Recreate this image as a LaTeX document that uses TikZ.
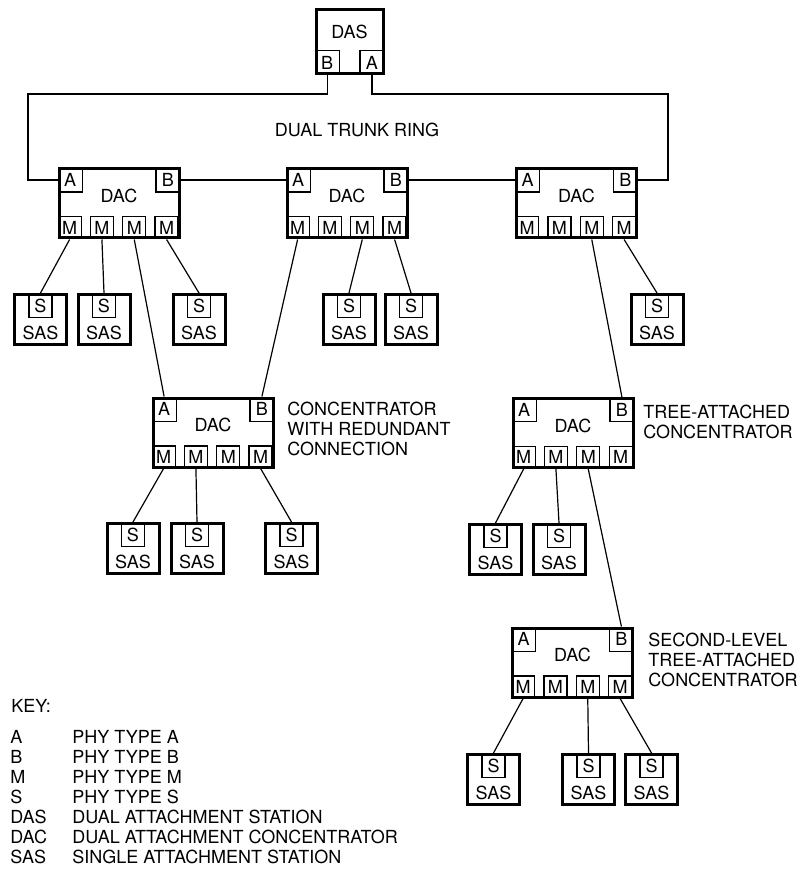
\documentclass[tikz,border=0pt]{standalone}
\usepackage{fontspec}
\setmainfont{TeX Gyre Heros}
\usetikzlibrary{calc,positioning}

\tikzset{
  thickbox/.style={draw,line width=1.5pt,inner sep=0pt},
  dacbox/.style={thickbox,minimum width=60pt,minimum height=34.5pt},
  sasbox/.style={thickbox,minimum width=26pt,minimum height=25pt},
  dasbox/.style={thickbox,minimum width=33.5pt,minimum height=32pt},
  port/.style={draw,line width=0.6pt,inner sep=0pt,
               minimum width=12pt,minimum height=12pt},
  mport/.style={port,minimum width=11.5pt,minimum height=11pt},
  link/.style={line width=0.6pt},
  lbl/.style={inner sep=0pt}
}

% concentrator: name, centre x, centre y
\newcommand{\dacunit}[3]{%
  \node[dacbox] (#1) at (#2,#3) {};
  \node[lbl] (#1-t) at ([yshift=3.75pt]#1.center) {DAC};
  \node[port,anchor=north west] (#1-A) at (#1.north west) {A};
  \node[port,anchor=north east] (#1-B) at (#1.north east) {B};
  \foreach \k in {1,...,4}
    \node[mport,anchor=south west] (#1-m\k)
         at ($(#1.south west)+({32.33*(\k-1)},0)$) {M};
}
% single attachment station: name, centre x, top y
\newcommand{\sasunit}[3]{%
  \node[sasbox,anchor=north] (#1) at (#2,#3) {};
  \node[port,minimum width=11.5pt,anchor=north] (#1-S) at (#1.north) {S};
  \node[lbl] (#1-t) at ([yshift=-6.5pt]#1.center) {SAS};
}

\begin{document}
\begin{tikzpicture}[x=0.5pt,y=-0.5pt,font=\fontsize{9}{10}\selectfont]
  \useasboundingbox (0,0) rectangle (805,871);

  % station on the trunk ring
  \node[dasbox] (das) at (349.5,42) {};
  \node[lbl] (das-t) at ([yshift=5.25pt]das.center) {DAS};
  \node[port,anchor=south west] (das-B) at (das.south west) {B};
  \node[port,anchor=south east] (das-A) at (das.south east) {A};

  \dacunit{dac1}{119}{203.5}
  \dacunit{dac2}{347}{203.5}
  \dacunit{dac3}{576.5}{203.5}
  \dacunit{dac4}{213}{432.5}
  \dacunit{dac5}{573}{433}
  \dacunit{dac6}{572.5}{662.5}

  \sasunit{sas1}{40.5}{293}
  \sasunit{sas2}{104}{293}
  \sasunit{sas3}{199}{293}
  \sasunit{sas4}{349}{293}
  \sasunit{sas5}{411}{293}
  \sasunit{sas6}{657}{293}
  \sasunit{sas7}{133}{522}
  \sasunit{sas8}{197}{522}
  \sasunit{sas9}{291.5}{522}
  \sasunit{sas10}{495.5}{523}
  \sasunit{sas11}{559}{523}
  \sasunit{sas12}{493.5}{753}
  \sasunit{sas13}{588.5}{753}
  \sasunit{sas14}{651.5}{753}

  % trunk ring
  \coordinate (ringw) at (28,94);
  \coordinate (ringe) at (668,94);
  \draw[link] (das-B.south) |- (ringw) |- (dac1-A.west);
  \draw[link] (das-A.south) |- (ringe) |- (dac3-B.east);
  \draw[link] (dac1-B.east) -- (dac2-A.west);
  \draw[link] (dac2-B.east) -- (dac3-A.west);
  \node[lbl] (ring) at (357,130) {DUAL TRUNK RING};

  % tree links
  \foreach \a/\b in {dac1-m1/sas1-S,dac1-m2/sas2-S,dac1-m3/dac4-A,dac1-m4/sas3-S,
                     dac2-m1/dac4-B,dac2-m3/sas4-S,dac2-m4/sas5-S,
                     dac3-m3/dac5-B,dac3-m4/sas6-S,
                     dac4-m1/sas7-S,dac4-m2/sas8-S,dac4-m4/sas9-S,
                     dac5-m1/sas10-S,dac5-m2/sas11-S,dac5-m3/dac6-B,
                     dac6-m1/sas12-S,dac6-m3/sas13-S,dac6-m4/sas14-S}
    \draw[link] (\a.south) -- (\b.north);

  \node[lbl,anchor=north west,align=left] (redlbl) at (287,402)
       {CONCENTRATOR\\WITH REDUNDANT\\CONNECTION};
  \node[lbl,anchor=north west,align=left] (treelbl) at (643,405)
       {TREE-ATTACHED\\CONCENTRATOR};
  \node[lbl,anchor=north west,align=left] (seclbl) at (648,633)
       {SECOND-LEVEL\\TREE-ATTACHED\\CONCENTRATOR};

  % key
  \node[lbl,anchor=base west] (key) at (11,712) {KEY:};
  \node[lbl,anchor=north west] (keytab) at (10,729) {%
    \begin{tabular}{@{}p{31pt}@{}l@{}}
      A   & PHY TYPE A\\
      B   & PHY TYPE B\\
      M   & PHY TYPE M\\
      S   & PHY TYPE S\\
      DAS & DUAL ATTACHMENT STATION\\
      DAC & DUAL ATTACHMENT CONCENTRATOR\\
      SAS & SINGLE ATTACHMENT STATION
    \end{tabular}};

\end{tikzpicture}
\end{document}
